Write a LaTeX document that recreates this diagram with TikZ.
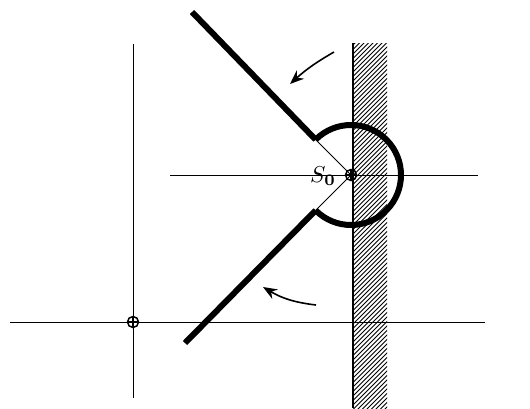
\documentclass[tikz,border=0pt]{standalone}
\usetikzlibrary{arrows.meta,calc}
\begin{document}
\begin{tikzpicture}[x=1pt,y=-1pt,
  axis/.style={line width=1pt},
  ray/.style={line width=6pt},
  hatch/.style={line width=0.75pt},
  crossmark/.style={circle,draw,line width=1.5pt,minimum size=11pt,inner sep=0pt,
    path picture={\draw[line width=1.2pt] (path picture bounding box.north) -- (path picture bounding box.south)
      (path picture bounding box.west) -- (path picture bounding box.east);}},
  turn/.style={line width=1.6pt,-{Stealth[length=14pt,width=11pt]}},
  lab/.style={inner sep=0pt,scale=2.3}]
\useasboundingbox (0,0) rectangle (530,408);
% hatched strip
\begin{scope}
  \clip (353,43) rectangle (387,408);
  \foreach \k in {40,44.5,...,472} \draw[hatch] (340,\k) -- ++(60,-60);
\end{scope}
\coordinate (sT) at (353,43);
\coordinate (sB) at (353,408);
\draw[line width=2pt] (sT) -- (sB);
% axes
\coordinate (hL) at (170,175);
\coordinate (hR) at (478,175);
\coordinate (aL) at (10,322);
\coordinate (aR) at (485,322);
\coordinate (vT) at (133,44);
\coordinate (vB) at (133,398);
\draw[axis] (hL) -- (hR);
\draw[axis] (aL) -- (aR);
\draw[axis] (vT) -- (vB);
% contour
\coordinate (S) at (351,175);
\coordinate (cu) at ($(S)+(-35.36,-35.36)$);
\coordinate (cl) at ($(S)+(-35.36,35.36)$);
\coordinate (ru) at (192,12);
\coordinate (rl) at (185,343);
\draw[ray] (ru) -- (cu);
\draw[ray] (rl) -- (cl);
\draw[line width=6pt] (cu) arc[start angle=135,end angle=-135,radius=50pt];
\draw[axis] (cu) -- (S) -- (cl);
\node[crossmark] (s0) at (S) {};
\node[crossmark] (o) at (133,322) {};
\node[lab] (l0) at (323,176) {$S_{\mathbf 0}$};
% arrows
\coordinate (a1) at (334,52);
\coordinate (b1) at (290,84);
\coordinate (a2) at (316,305);
\coordinate (b2) at (263,287);
\draw[turn] (a1) to[bend right=6] (b1);
\draw[turn] (a2) to[bend left=12] (b2);
\end{tikzpicture}
\end{document}
